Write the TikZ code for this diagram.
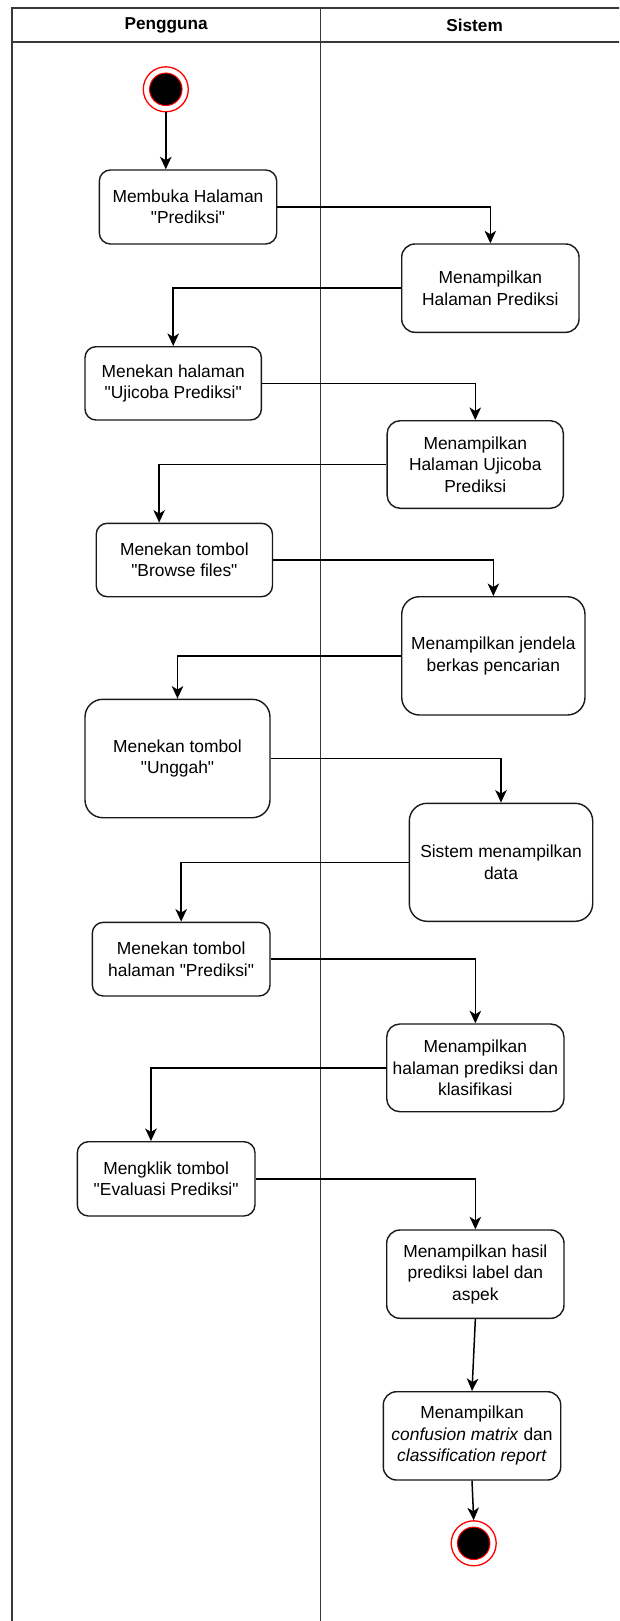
\documentclass[tikz,border=0pt]{standalone}
\usepackage{fontspec}
\setmainfont{Liberation Sans}[Ligatures=TeXOff]
\usetikzlibrary{arrows.meta}

% activity box given by its corners (x1,y1) and (x2,y2), y growing downward
\newcommand\activity[6]{%
  \pgfmathsetmacro\actw{#4-#2}%
  \pgfmathsetmacro\acth{#5-#3}%
  \pgfmathsetmacro\actr{0.15*min(\actw,\acth)}%
  \node[act, minimum width=\actw pt, minimum height=\acth pt,
        rounded corners=\actr pt] (#1) at ({(#2+#4)/2},{(#3+#5)/2}) {#6};}

\begin{document}
\begin{tikzpicture}[x=1pt, y=-1pt,
  lane/.style={draw=black!78, line width=1.5pt},
  lanetitle/.style={font=\fontsize{17.2}{20}\selectfont\bfseries, inner sep=0pt},
  act/.style={draw=black!90, line width=1.4pt, fill=white, align=center,
              inner sep=0pt, font=\fontsize{17.4}{21.4}\selectfont},
  flow/.style={draw=black, line width=1.5pt,
               -{Stealth[length=12.5pt, width=11.5pt, inset=3.5pt]}},
  ring/.style={circle, draw=red, line width=1.3pt, fill=white,
               minimum size=45pt, inner sep=0pt},
  dot/.style={circle, draw=red, line width=1pt, fill=black,
              minimum size=32.5pt, inner sep=0pt}]

\useasboundingbox (0,0) rectangle (619,1621);
\clip (0,0) rectangle (619,1621);

% swimlane frame
\draw[lane] (11.8,1640) |- (640,8);
\draw[lane] (11.8,42) -- (640,42);
\draw[lane] (320.7,8) -- (320.7,1640);
\node[lanetitle] (userlane) at (166.2,25) {Pengguna};
\node[lanetitle] (systemlane) at (474.6,25) {Sistem};

% initial node
\node[ring] (start) at (165.8,89.3) {};
\node[dot] (startdot) at (start) {};

% activities
\activity{b1}{99.3}{170}{276.7}{244}{Membuka Halaman\\"Prediksi"}
\activity{b2}{401.7}{244}{579}{332.3}{Menampilkan\\Halaman Prediksi}
\activity{b3}{85}{346.7}{261.4}{420}{Menekan halaman\\"Ujicoba Prediksi"}
\activity{b4}{387.1}{420.7}{563.4}{508.3}{Menampilkan\\Halaman Ujicoba\\Prediksi}
\activity{b5}{96.2}{523.3}{272.5}{596.7}{Menekan tombol\\"Browse files"}
\activity{b6}{401.7}{596.7}{585}{715}{Menampilkan jendela\\berkas pencarian}
\activity{b7}{85}{699.3}{270}{817.7}{Menekan tombol\\"Unggah"}
\activity{b8}{409.3}{803.3}{592.7}{921.3}{Sistem menampilkan\\data}
\activity{b9}{92.3}{922.3}{270}{996}{Menekan tombol\\halaman "Prediksi"}
\activity{b10}{386.7}{1024}{564}{1111.7}{Menampilkan\\halaman prediksi dan\\klasifikasi}
\activity{b11}{77.3}{1141.7}{255}{1216}{Mengklik tombol\\"Evaluasi Prediksi"}
\activity{b12}{386.7}{1230}{564}{1318.3}{Menampilkan hasil\\prediksi label dan\\aspek}
\activity{b13}{383.3}{1391.7}{560.7}{1480}{Menampilkan\\\textit{confusion matrix} dan\\\textit{classification report}}

% final node
\node[ring] (end) at (473.7,1543.3) {};
\node[dot] (enddot) at (end) {};

% control flow
\draw[flow] (start.south) -- (start.south |- b1.north);
\draw[flow] (b1.east) -| (b2.north);
\draw[flow] (b2.west) -| (b3.north);
\draw[flow] (b3.east) -| (b4.north);
\draw[flow] (b4.west) -| ([xshift=-25.2pt]b5.north);
\draw[flow] (b5.east) -| (b6.north);
\draw[flow] (b6.west) -| (b7.north);
\draw[flow] (b7.east) -| (b8.north);
\draw[flow] (b8.west) -| (b9.north);
\draw[flow] (b9.east) -| (b10.north);
\draw[flow] (b10.west) -| ([xshift=-15.2pt]b11.north);
\draw[flow] (b11.east) -| (b12.north);
\draw[flow] (b12.south) -- (b13.north);
\draw[flow] (b13.south) -- (end.north);
\end{tikzpicture}
\end{document}
